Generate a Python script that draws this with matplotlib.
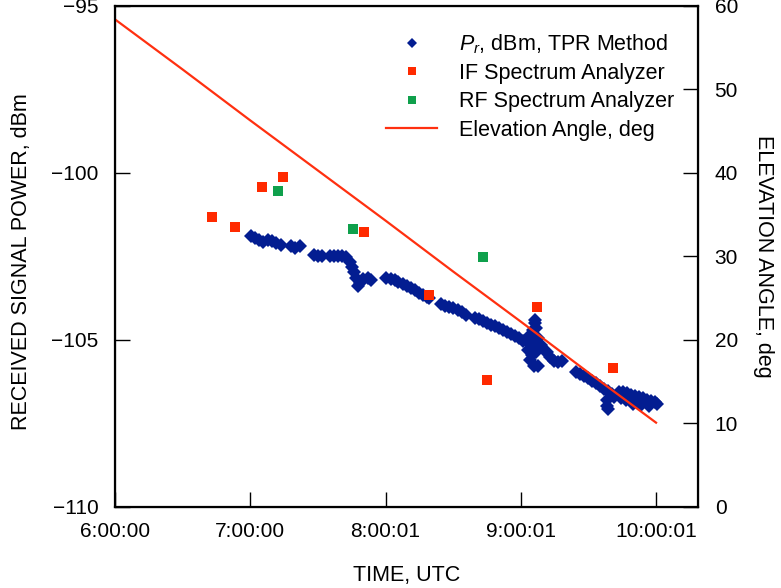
import matplotlib
matplotlib.use("Agg")
import matplotlib.pyplot as plt

plt.rcParams['font.family'] = ['Liberation Sans', 'DejaVu Sans']
plt.rcParams['mathtext.fontset'] = 'custom'
plt.rcParams['mathtext.rm'] = 'Liberation Sans'
plt.rcParams['mathtext.it'] = 'Liberation Sans:italic'

# time in decimal hours UTC, power in dBm, elevation in deg

# P_r, TPR method
tpr_time = [
    7.007, 7.037, 7.067, 7.096, 7.133, 7.163, 7.193, 7.230,
    7.304, 7.333, 7.370,
    7.474, 7.504, 7.533,
    7.593, 7.622, 7.652, 7.681, 7.711, 7.741, 7.756, 7.770, 7.785, 7.793,
    7.815, 7.837, 7.867, 7.896,
    8.007, 8.037, 8.067, 8.096, 8.126, 8.156, 8.185, 8.215, 8.244, 8.274,
    8.304, 8.319,
    8.407, 8.437, 8.467, 8.496, 8.533, 8.563, 8.593,
    8.659, 8.689, 8.719, 8.748, 8.778, 8.807, 8.837, 8.867, 8.896, 8.926,
    8.956, 8.985, 9.015,
    9.059, 9.089, 9.104, 9.104, 9.111, 9.074, 9.096, 9.126, 9.052, 9.081,
    9.111, 9.067, 9.096, 9.126, 9.148, 9.170, 9.193,
    9.215, 9.244, 9.274, 9.304,
    9.407, 9.437, 9.467, 9.496, 9.526, 9.556, 9.585, 9.615, 9.644, 9.674,
    9.689,
    9.637, 9.637, 9.644,
    9.726, 9.756, 9.785, 9.815, 9.844, 9.874, 9.904, 9.933, 9.963, 9.993,
    10.007,
    9.741, 9.778, 9.830, 9.889, 9.948,
]
tpr_power = [
    -101.89, -101.95, -102.02, -102.07, -102.01, -102.05, -102.10, -102.16,
    -102.19, -102.25, -102.19,
    -102.46, -102.50, -102.49,
    -102.49, -102.49, -102.49, -102.49, -102.52, -102.66, -102.81, -102.96, -103.14, -103.38,
    -103.29, -103.17, -103.14, -103.20,
    -103.14, -103.16, -103.20, -103.26, -103.32, -103.38, -103.44, -103.50, -103.59, -103.65,
    -103.71, -103.74,
    -103.92, -103.98, -104.01, -104.04, -104.10, -104.16, -104.25,
    -104.34, -104.37, -104.43, -104.49, -104.55, -104.58, -104.64, -104.70, -104.76, -104.81,
    -104.87, -104.94, -105.03,
    -104.88, -104.70, -104.49, -104.40, -104.64, -105.15, -105.00, -104.94, -105.30, -105.45,
    -105.36, -105.60, -105.78, -105.78, -105.15, -105.30, -105.36,
    -105.51, -105.63, -105.66, -105.63,
    -105.96, -106.02, -106.08, -106.14, -106.23, -106.29, -106.38, -106.47, -106.53, -106.62,
    -106.71,
    -106.80, -106.98, -107.07,
    -106.56, -106.56, -106.59, -106.65, -106.68, -106.71, -106.74, -106.80, -106.83, -106.86,
    -106.92,
    -106.74, -106.80, -106.92, -106.95, -106.98,
]

# IF spectrum analyzer
if_time = [6.719, 6.887, 7.084, 7.242, 7.839, 8.321, 8.748, 9.121, 9.681]
if_power = [-101.32, -101.63, -100.43, -100.13, -101.78, -103.65, -106.20, -104.02, -105.85]

# RF spectrum analyzer
rf_time = [7.202, 7.763, 8.721]
rf_power = [-100.55, -101.69, -102.52]

# elevation angle
elev_time = [6.0, 6.5, 7.0, 7.5, 8.0, 8.5, 9.0, 9.5, 10.0]
elev_deg = [58.4, 52.4, 46.3, 40.3, 34.3, 28.2, 22.2, 16.1, 10.1]

x_ticks = [6, 7, 8, 9, 10]
x_labels = ['6:00:00', '7:00:00', '8:00:01', '9:00:01', '10:00:01']

fig = plt.figure(figsize=(7.81, 5.88), dpi=100)
ax = fig.add_axes([0.1472, 0.1378, 0.7465, 0.852])

h_tpr, = ax.plot(tpr_time, tpr_power, 'D', color='#031d91', markersize=7,
                 markeredgewidth=0, label='$P_r$, dBm, TPR Method')
h_if, = ax.plot(if_time, if_power, 's', color='#ff2a00', markersize=6.5,
                markeredgewidth=0, label='IF Spectrum Analyzer')
h_rf, = ax.plot(rf_time, rf_power, 's', color='#0fa04c', markersize=6.5,
                markeredgewidth=0, label='RF Spectrum Analyzer')

ax.set_xlim(6, 10.31)
ax.set_ylim(-110, -95)
ax.set_yticks([-110, -105, -100, -95])
ax.set_xticks(x_ticks)
ax.set_xticklabels(x_labels)
ax.tick_params(axis='both', direction='in', labelsize=15, width=1, length=11)
ax.tick_params(axis='y', pad=12)
ax.tick_params(axis='x', pad=11)
for s in ax.spines.values():
    s.set_linewidth(1.6)

ax.set_xlabel('TIME, UTC', fontsize=15.5)
ax.xaxis.set_label_coords(0.5, -0.115)
ax.set_ylabel('RECEIVED SIGNAL POWER, dBm', fontsize=15.5)
ax.yaxis.set_label_coords(-0.142, 0.49)

ax2 = ax.twinx()
h_el, = ax2.plot(elev_time, elev_deg, '-', color='#ff3010', linewidth=1.6,
                 label='Elevation Angle, deg')
ax2.set_ylim(0, 60)
ax2.set_yticks([0, 10, 20, 30, 40, 50, 60])
ax2.tick_params(axis='y', direction='in', labelsize=15, width=1, length=11, pad=12)
ax2.set_ylabel('ELEVATION ANGLE, deg', fontsize=15.5, rotation=270, va='bottom')
ax2.yaxis.set_label_coords(1.095, 0.5)

leg = ax2.legend(handles=[h_tpr, h_if, h_rf, h_el], loc='upper left',
                 bbox_to_anchor=(0.465, 0.948), frameon=False, fontsize=15.5,
                 borderaxespad=0, borderpad=0, handlelength=2.37,
                 handletextpad=1.0, labelspacing=0.34, markerscale=0.85)
leg.legend_handles[0].set_markersize(5)

fig.savefig('out.png', dpi=100)
